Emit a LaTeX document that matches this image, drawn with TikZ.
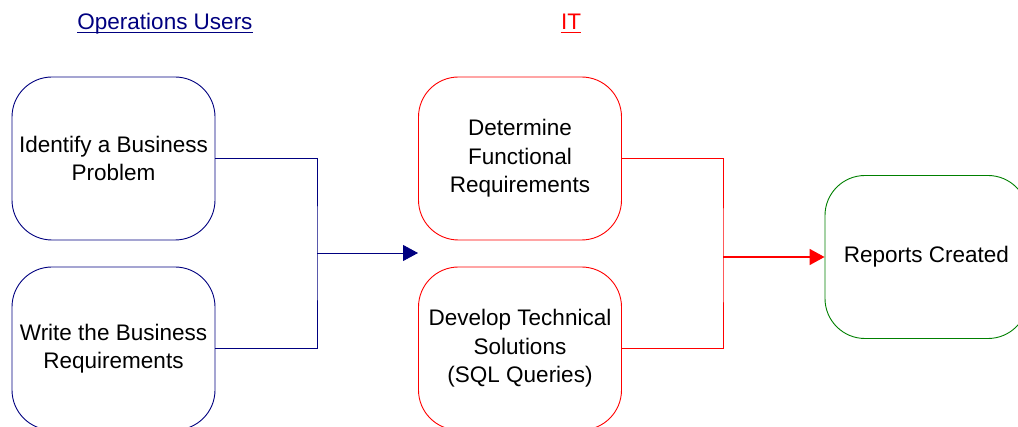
\documentclass[tikz,border=0pt]{standalone}
\usepackage{fontspec}
\setmainfont{Liberation Sans}
\usetikzlibrary{arrows.meta}
\definecolor{opsblue}{RGB}{0,0,128}
\definecolor{itred}{RGB}{255,0,0}
\definecolor{donegreen}{RGB}{0,128,0}
\tikzset{
  stepbox/.style={draw, rounded corners=40pt, minimum width=203pt, minimum height=163pt,
    align=center, inner sep=0pt, line width=0.9pt,
    font=\fontsize{22.5}{28.5}\selectfont},
  opsbox/.style={stepbox, draw=opsblue},
  itbox/.style={stepbox, draw=itred},
  endbox/.style={stepbox, draw=donegreen},
  heading/.style={inner sep=0pt, anchor=base, font=\fontsize{22.5}{27}\selectfont},
  headline/.style={line width=0.9pt},
  opsline/.style={draw=opsblue, line width=0.9pt},
  itline/.style={draw=itred, line width=0.9pt},
  tip/.style={-{Triangle[length=15pt,width=16pt]}}
}
\begin{document}
\begin{tikzpicture}[x=1pt,y=-1pt]
\useasboundingbox (0,0) rectangle (1018,427);
\clip (0,0) rectangle (1018,427);
\fill[white] (0,0) rectangle (1018,427);

% column headings
\node[heading, text=opsblue] (ops) at (165,30) {Operations Users};
\draw[headline, opsblue] ([yshift=-2.5pt]ops.base west) -- ([yshift=-2.5pt]ops.base east);
\node[heading, text=itred] (it) at (571,30) {IT};
\draw[headline, itred] ([yshift=-2.5pt]it.base west) -- ([yshift=-2.5pt]it.base east);

% process steps
\node[opsbox] (ident) at (113.5,158.5) {Identify a Business\\Problem};
\node[opsbox] (write) at (113.5,348.5) {Write the Business\\Requirements};
\node[itbox] (func) at (520,158.5) {Determine\\Functional\\Requirements};
\node[itbox] (dev) at (520,348.5) {Develop Technical\\Solutions\\(SQL Queries)};
\node[endbox] (rep) at (926.5,257) {Reports Created};

% hand-off from operations to IT
\coordinate (opsjoin) at (317,253);
\coordinate (itin) at (418,253);
\draw[opsline] (ident.east) -| (opsjoin) |- (write.east);
\draw[opsline, tip, opsblue] (opsjoin) -- (itin);

% IT output to reports
\coordinate (itjoin) at (723,257);
\draw[itline] (func.east) -| (itjoin) |- (dev.east);
\draw[itline, line width=1.6pt, tip] (itjoin) -- (rep.west);
\end{tikzpicture}
\end{document}
